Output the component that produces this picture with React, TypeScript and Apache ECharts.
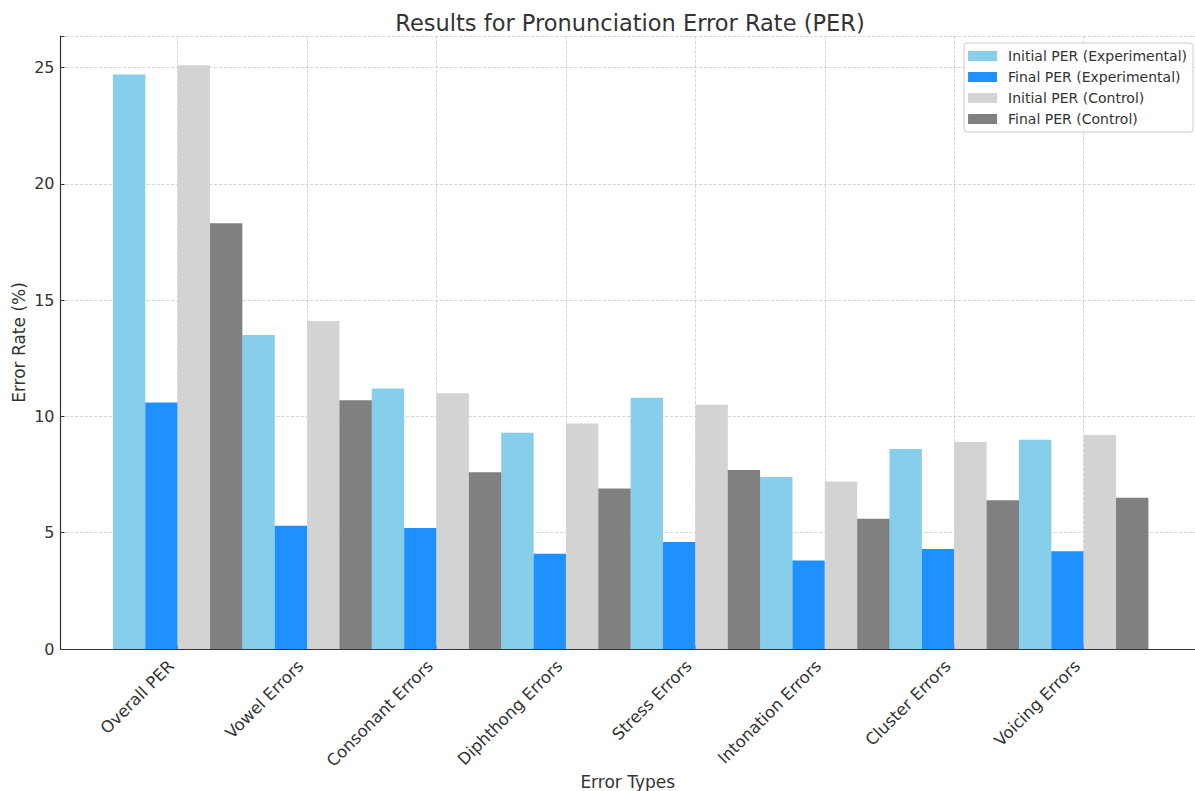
import React, { useEffect, useRef } from "react";
import * as echarts from "echarts";

const categories = [
  "Overall PER",
  "Vowel Errors",
  "Consonant Errors",
  "Diphthong Errors",
  "Stress Errors",
  "Intonation Errors",
  "Cluster Errors",
  "Voicing Errors",
];
const initialExp = [24.7, 13.5, 11.2, 9.3, 10.8, 7.4, 8.6, 9.0];
const finalExp = [10.6, 5.3, 5.2, 4.1, 4.6, 3.8, 4.3, 4.2];
const initialCtrl = [25.1, 14.1, 11.0, 9.7, 10.5, 7.2, 8.9, 9.2];
const finalCtrl = [18.3, 10.7, 7.6, 6.9, 7.7, 5.6, 6.4, 6.5];
const seriesNames = [
  "Initial PER (Experimental)",
  "Final PER (Experimental)",
  "Initial PER (Control)",
  "Final PER (Control)",
];
const seriesColors = ["#87CEEB", "#1E90FF", "#D3D3D3", "#808080"];
const yTicks = [0, 5, 10, 15, 20, 25];

const FONT = "DejaVu Sans";
const TXT = "#333333";

export default function App() {
  const ref = useRef<HTMLDivElement>(null);
  useEffect(() => {
    if (!ref.current) return;
    const chart = echarts.init(ref.current, null, { renderer: "svg" });
    const barW = 0.25;
    const allSeries = [initialExp, finalExp, initialCtrl, finalCtrl];
    const tickVals = categories.map((_, i) => i);
    chart.setOption({
      animation: false,
      backgroundColor: "#ffffff",
      textStyle: { fontFamily: FONT },
      title: {
        text: "Results for Pronunciation Error Rate (PER)",
        left: 625,
        textAlign: "center",
        top: 6,
        textStyle: { fontFamily: FONT, fontSize: 22.5, fontWeight: "normal", color: TXT },
      },
      legend: {
        orient: "vertical",
        right: 2,
        top: 43,
        padding: [6, 6, 6, 4],
        itemGap: 7,
        itemWidth: 29,
        itemHeight: 10,
        icon: "rect",
        borderColor: "#cccccc",
        borderWidth: 1,
        borderRadius: 3,
        backgroundColor: "rgba(255,255,255,0.8)",
        textStyle: { fontFamily: FONT, fontSize: 14, color: TXT, padding: [0, 0, 0, 6] },
        data: seriesNames,
      },
      grid: { left: 60.5, right: 0, top: 36, bottom: 142, outerBoundsMode: "none", containLabel: false },
      xAxis: {
        type: "value",
        min: -0.905,
        max: 7.86,
        name: "Error Types",
        nameLocation: "middle",
        nameGap: 124,
        nameMoveOverlap: false,
        nameTextStyle: { fontFamily: FONT, fontSize: 17, color: TXT },
        axisLine: { show: true, onZero: false, lineStyle: { color: TXT, width: 1.2 } },
        axisTick: { show: true, inside: true, customValues: tickVals, length: 4, lineStyle: { color: TXT } },
        axisLabel: {
          customValues: tickVals,
          rotate: 45,
          fontFamily: FONT,
          fontSize: 16.5,
          color: TXT,
          margin: 8,
          padding: [0, 9, 0, 0],
          formatter: (v: number) => categories[Math.round(v)] ?? "",
        },
        splitLine: { show: true, lineStyle: { type: "dashed", color: "#cccccc", width: 0.8 } },
      },
      yAxis: {
        type: "value",
        min: 0,
        max: 26.355,
        interval: 5,
        name: "Error Rate (%)",
        nameLocation: "middle",
        nameRotate: 90,
        nameGap: 33,
        nameMoveOverlap: false,
        nameTextStyle: { fontFamily: FONT, fontSize: 17, color: TXT },
        axisLine: { show: true, onZero: false, lineStyle: { color: TXT, width: 1.2 } },
        axisTick: { show: true, inside: true, length: 4, lineStyle: { color: TXT } },
        axisLabel: {
          fontFamily: FONT,
          fontSize: 16,
          color: TXT,
          margin: 6,
          customValues: yTicks,
        },
        splitLine: { show: true, lineStyle: { type: "dashed", color: "#cccccc", width: 0.8 } },
      },
      series: allSeries.map((vals, s) => ({
        type: "bar",
        name: seriesNames[s],
        barWidth: 32.4,
        barGap: "-100%",
        itemStyle: { color: seriesColors[s] },
        data: vals.map((v, i) => [i - 0.375 + s * barW, v]),
      })),
    });
    return () => chart.dispose();
  }, []);
  return (
    <div
      ref={ref}
      style={{ position: "fixed", left: 0, top: 0, width: 1195, height: 791 }}
    />
  );
}
